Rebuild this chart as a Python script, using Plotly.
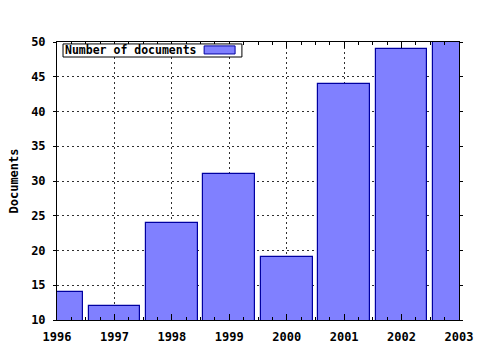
import plotly.graph_objects as go

years = [1996, 1997, 1998, 1999, 2000, 2001, 2002, 2003]
documents = [14, 12, 24, 31, 19, 44, 49, 50]
series_name = "Number of documents"
y_title = "Documents"

FONT = "DejaVu Sans Mono"

fig = go.Figure()
fig.add_trace(go.Bar(
    x=years, y=documents, name=series_name, width=0.9,
    marker=dict(color="rgb(128,128,255)", line=dict(color="rgb(0,0,160)", width=1.2)),
    showlegend=False,
))

grid = dict(showgrid=True, gridcolor="#303030", gridwidth=1, griddash="2px,3px")

fig.update_layout(
    width=480, height=350,
    margin=dict(l=57, r=21, t=42, b=30),
    paper_bgcolor="white", plot_bgcolor="white",
    font=dict(family=FONT, size=12, color="black"),
    bargap=0,
    xaxis=dict(
        range=[1996, 2003], dtick=1, tick0=1996, tickformat="d",
        ticks="inside", ticklen=6, tickcolor="black", tickwidth=1,
        minor=dict(dtick=0.25, ticks="inside", ticklen=3, tickcolor="black", showgrid=False),
        showline=True, linecolor="black", linewidth=1, mirror="allticks",
        zeroline=False, tickfont=dict(family=FONT, size=12, weight="bold"),
        ticklabelstandoff=6, automargin=False,
        **grid,
    ),
    yaxis=dict(
        range=[10, 50], dtick=5, tick0=10,
        ticks="outside", ticklen=3, tickcolor="black", tickwidth=1,
        showline=True, linecolor="black", linewidth=1, mirror="allticks",
        zeroline=False, tickfont=dict(family=FONT, size=12, weight="bold"),
        ticklabelstandoff=5, automargin=False,
        title=dict(text=y_title, font=dict(family=FONT, size=12, weight="bold"), standoff=9),
        **grid,
    ),
    shapes=[
        dict(type="rect", xref="paper", yref="paper", x0=0.015, x1=0.460, y0=0.946, y1=0.993,
             fillcolor="white", line=dict(color="black", width=1), layer="above"),
        dict(type="rect", xref="paper", yref="paper", x0=0.366, x1=0.443, y0=0.957, y1=0.986,
             fillcolor="rgb(128,128,255)", line=dict(color="rgb(0,0,160)", width=1), layer="above"),
    ],
    annotations=[
        dict(text=series_name, xref="paper", yref="paper", x=0.016, y=0.970,
             xanchor="left", yanchor="middle", showarrow=False,
             font=dict(family=FONT, size=11.5, weight="bold", color="black")),
    ],
)

fig.write_html("out.html")
